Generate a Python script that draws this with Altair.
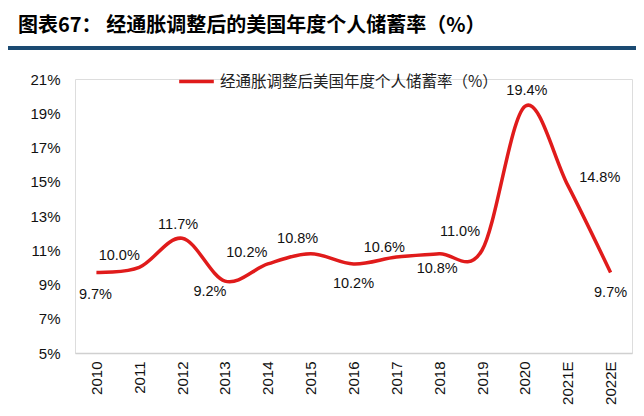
import altair as alt
import pandas as pd

years = ["2010", "2011", "2012", "2013", "2014", "2015", "2016",
         "2017", "2018", "2019", "2020", "2021E", "2022E"]
rates = [9.7, 10.0, 11.7, 9.2, 10.2, 10.8, 10.2, 10.6, 10.8, 11.0, 19.4, 14.8, 9.7]
labels = ["9.7%", "10.0%", "11.7%", "9.2%", "10.2%", "10.8%", "10.2%",
          "10.6%", "10.8%", "11.0%", "19.4%", "14.8%", "9.7%"]
y_ticks = [5, 7, 9, 11, 13, 15, 17, 19, 21]
series_name = "经通胀调整后美国年度个人储蓄率（%）"
title_text = "图表67： 经通胀调整后的美国年度个人储蓄率（%）"

df = pd.DataFrame({"year": years, "rate": rates, "label": labels,
                   "series": [series_name] * len(years)})

# label offsets (dx, dy) in pixels - layout only
label_offsets = [(-1, 22), (-20, -11), (-4, -13), (-15, 11), (-21, -11), (-13, -15),
                 (0, 20), (-12, -9), (-2, 15), (-22, -18), (2, -15), (32, -7), (0, 20)]

FONT = "Liberation Sans"
CJK = "Noto Sans CJK SC"
RED = "#E01B1B"

x_enc = alt.X("year:N", sort=years, scale=alt.Scale(paddingInner=0, paddingOuter=0),
              axis=alt.Axis(title=None, labelAngle=-90, labelFontSize=15, labelFont=FONT,
                            labelColor="#111", ticks=False, domainColor="#d0d0d0",
                            domainWidth=1.5, labelPadding=8, labelAlign="right",
                            labelBaseline="middle"))
y_enc = alt.Y("rate:Q", scale=alt.Scale(domain=[5, 21], nice=False, zero=False),
              axis=alt.Axis(title=None, values=y_ticks, labelExpr="datum.value + '%'",
                            grid=False, ticks=False, domain=False, labelFontSize=15,
                            labelFont=FONT, labelColor="#111", labelPadding=15,
                            labelOverlap=False))

base = alt.Chart(df)

line = base.mark_line(interpolate="cardinal", strokeWidth=3.5).encode(
    x=x_enc, y=y_enc,
    color=alt.Color("series:N", scale=alt.Scale(range=[RED]),
                    legend=alt.Legend(title=None, orient="none", legendX=102, legendY=-17,
                                      symbolType="stroke", symbolSize=1200,
                                      symbolStrokeWidth=3.5, labelFont=CJK,
                                      labelFontSize=15.5, labelColor="#222",
                                      labelOffset=4, labelLimit=400)))

texts = []
for i, (dx, dy) in enumerate(label_offsets):
    texts.append(
        base.transform_filter(alt.datum.year == years[i]).mark_text(
            dx=dx, dy=dy, fontSize=14.5, font=FONT, color="#111"
        ).encode(x=x_enc, y=y_enc, text="label:N")
    )

rule = alt.Chart(pd.DataFrame({"a": [0]})).mark_rule(
    color="#1B4A72", strokeWidth=4).encode(
    x=alt.value(-75), x2=alt.value(569), y=alt.value(-31))

chart = alt.layer(rule, line, *texts).properties(
    width=557, height=274,
    padding={"left": 67, "top": 71, "right": 4, "bottom": 55},
    autosize=alt.AutoSizeParams(type="none"),
    title=alt.TitleParams(title_text, anchor="start", frame="group", dx=-57,
                          offset=10, fontSize=20, fontWeight="bold", font=CJK,
                          color="#000")
).configure_view(stroke=None).configure(background="white")

chart.save("out.html", embed_options={"renderer": "svg", "actions": False})
